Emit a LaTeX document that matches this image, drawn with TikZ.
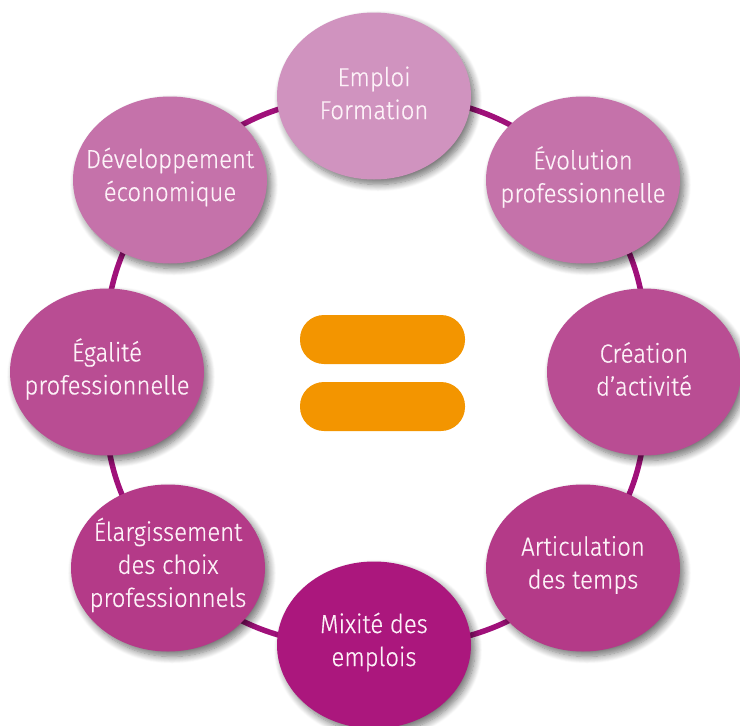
\documentclass[tikz,border=0pt]{standalone}
\usepackage{fontspec}
\setmainfont{Fira Sans}[FakeStretch=0.92, UprightFont={* Light}, UprightFeatures={FakeBold=0.6}]
\usetikzlibrary{shapes.geometric,shadows.blur,backgrounds}
\definecolor{cA}{HTML}{D093BF}
\definecolor{cB}{HTML}{C572AA}
\definecolor{cC}{HTML}{B94D93}
\definecolor{cD}{HTML}{B43A88}
\definecolor{cE}{HTML}{AB177D}
\definecolor{ring}{HTML}{A0107A}
\definecolor{orangebar}{HTML}{F39500}
\definecolor{txt}{HTML}{FDF2F8}
\tikzset{
  bubble/.style={ellipse, minimum width=194pt, minimum height=167pt, inner sep=0pt,
    blur shadow={shadow xshift=4pt, shadow yshift=-5pt, shadow blur radius=7pt, shadow blur steps=10, shadow opacity=55}},
  bubbletext/.style={align=center, text=txt, inner sep=0pt, yshift=3pt,
    font=\fontsize{26}{33}\selectfont},
  ringline/.style={draw=ring, line width=5.5pt},
  bar/.style={fill=orangebar, rounded corners=24pt}
}
\begin{document}
\begin{tikzpicture}[x=1pt,y=1pt]
\useasboundingbox (0,0) rectangle (740,-726);
\node[bubble, fill=cA] (t)  at (374,-96)  {};
\node[bubble, fill=cB] (tr) at (583,-180) {};
\node[bubble, fill=cC] (r)  at (644,-372) {};
\node[bubble, fill=cD] (br) at (583,-568) {};
\node[bubble, fill=cE] (b)  at (374,-645) {};
\node[bubble, fill=cD] (bl) at (168,-568) {};
\node[bubble, fill=cC] (l)  at (107,-372) {};
\node[bubble, fill=cB] (tl) at (170,-180) {};
\node[bubbletext] (t-text)  at (t)  {Emploi\\Formation};
\node[bubbletext] (tr-text) at (tr) {Évolution\\professionnelle};
\node[bubbletext] (r-text)  at (r)  {Création\\d’activité};
\node[bubbletext] (br-text) at (br) {Articulation\\des temps};
\node[bubbletext] (b-text)  at (b)  {Mixité des\\emplois};
\node[bubbletext] (bl-text) at (bl) {Élargissement\\des choix\\professionnels};
\node[bubbletext] (l-text)  at (l)  {Égalité\\professionnelle};
\node[bubbletext] (tl-text) at (tl) {Développement\\économique};
\begin{scope}[on background layer]
\draw[ringline] (t.center) to[bend left=22.5] (tr.center)
  to[bend left=22.5] (r.center) to[bend left=22.5] (br.center)
  to[bend left=22.5] (b.center) to[bend left=22.5] (bl.center)
  to[bend left=22.5] (l.center) to[bend left=22.5] (tl.center)
  to[bend left=22.5] (t.center);
\end{scope}
\path[bar] (300,-315) rectangle (465,-364) coordinate (bar1);
\path[bar] (300,-382) rectangle (465,-431) coordinate (bar2);
\end{tikzpicture}
\end{document}
